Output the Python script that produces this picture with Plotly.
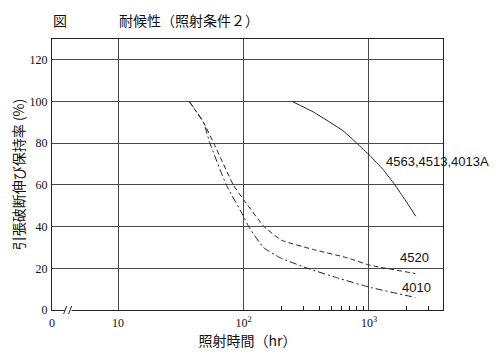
import plotly.graph_objects as go

# ---- data ----
hours_4563 = [245, 360, 620, 800, 1020, 1290, 1610, 1930, 2360]
ret_4563 = [100, 95, 86, 80, 74, 67.5, 60, 53, 45]

hours_4520 = [37, 48, 58, 83, 100, 146, 201, 361, 675, 1000, 2340]
ret_4520 = [100, 90, 80, 60, 53, 40, 33.5, 29, 25, 21.6, 17.5]

hours_4010 = [37, 48, 54, 73, 100, 110, 144, 197, 324, 561, 1000, 2340]
ret_4010 = [100, 90, 80, 60, 45, 40, 30, 25, 20, 15.4, 11, 6]

series_names = ["4563,4513,4013A", "4520", "4010"]

x_tickvals = [10 ** 0.474, 10, 100, 1000]
x_ticktext = ["0", "10", "10<sup>2</sup>", "10<sup>3</sup>"]
x_minor = [200, 300, 400, 500, 600, 700, 800, 900, 2000, 3000]
y_tickvals = [0, 20, 40, 60, 80, 100, 120]

INK = "#222222"
GRID = "#4a4a4a"
SERIF = "Liberation Serif, Times New Roman, serif"
SANS = "Liberation Sans, Arial, sans-serif"
JP = "Noto Sans CJK JP, sans-serif"

fig = go.Figure()
fig.add_trace(go.Scatter(x=hours_4563, y=ret_4563, mode="lines", name=series_names[0],
                         line=dict(color=INK, width=1, shape="spline", smoothing=0.4)))
fig.add_trace(go.Scatter(x=hours_4520, y=ret_4520, mode="lines", name=series_names[1],
                         line=dict(color=INK, width=1, dash="5px,3px", shape="spline", smoothing=0.4)))
fig.add_trace(go.Scatter(x=hours_4010, y=ret_4010, mode="lines", name=series_names[2],
                         line=dict(color=INK, width=1, dash="7px,3px,2px,3px", shape="spline", smoothing=0.4)))

# series labels
fig.add_annotation(x=3.12, y=71, xref="x", yref="y", text=series_names[0], showarrow=False,
                   xanchor="left", yanchor="middle", font=dict(family=SANS, size=13, color="#111"))
fig.add_annotation(x=3.235, y=25, xref="x", yref="y", text=series_names[1], showarrow=False,
                   xanchor="left", yanchor="middle", font=dict(family=SANS, size=13, color="#111"))
fig.add_annotation(x=3.25, y=11, xref="x", yref="y", text=series_names[2], showarrow=False,
                   xanchor="left", yanchor="middle", font=dict(family=SANS, size=13, color="#111"))

# title texts (paper coords: plot area spans 52..443 px horizontally, 39..310 px vertically on screen)
fig.add_annotation(x=(60 - 52) / 391, y=(310 - 20) / 271, xref="paper", yref="paper", text="図",
                   showarrow=False, xanchor="center", yanchor="middle",
                   font=dict(family=JP, size=14, color="#111"))
fig.add_annotation(x=(117 - 52) / 391, y=(310 - 20) / 271, xref="paper", yref="paper",
                   text="耐候性（照射条件２）", showarrow=False, xanchor="left", yanchor="middle",
                   font=dict(family=JP, size=14, color="#111"))

# axis break mark on the bottom axis
brk = 0.04
fig.add_shape(type="line", xref="paper", yref="paper", xsizemode="pixel", ysizemode="pixel",
              xanchor=brk, yanchor=0, x0=-3, x1=4, y0=0, y1=0, line=dict(color="white", width=3))
fig.add_shape(type="line", xref="paper", yref="paper", xsizemode="pixel", ysizemode="pixel",
              xanchor=brk, yanchor=0, x0=-4, x1=-1, y0=-4, y1=4, line=dict(color=INK, width=1))
fig.add_shape(type="line", xref="paper", yref="paper", xsizemode="pixel", ysizemode="pixel",
              xanchor=brk, yanchor=0, x0=1, x1=4, y0=-4, y1=4, line=dict(color=INK, width=1))

# the page body adds an 8px offset, so the margins are set 8px smaller at left/top
fig.update_layout(
    width=500, height=358,
    margin=dict(l=44, r=65, t=31, b=56, autoexpand=False),
    paper_bgcolor="white", plot_bgcolor="white",
    showlegend=False,
    xaxis=dict(
        type="log", range=[0.474, 3.59], automargin=False,
        tickvals=x_tickvals, ticktext=x_ticktext,
        ticks="", ticklabelstandoff=2,
        showgrid=True, gridcolor=GRID, gridwidth=1,
        showline=True, linecolor=INK, linewidth=1, mirror=True,
        zeroline=False,
        tickfont=dict(family=SERIF, size=12, color="#111"),
        minor=dict(tickvals=x_minor, ticks="inside", ticklen=4, tickcolor=INK, tickwidth=1, showgrid=False),
        title=dict(text="照射時間（hr）", font=dict(family=JP, size=14, color="#111"), standoff=4),
    ),
    yaxis=dict(
        range=[0, 130], automargin=False,
        tickvals=y_tickvals,
        ticks="", ticklabelstandoff=1,
        showgrid=True, gridcolor=GRID, gridwidth=1,
        showline=True, linecolor=INK, linewidth=1, mirror=True,
        zeroline=False,
        tickfont=dict(family=SERIF, size=12, color="#111"),
        title=dict(text="引張破断伸び保持率 (%)", font=dict(family=JP, size=14, color="#111"), standoff=8),
    ),
)

fig.write_html("out.html")
